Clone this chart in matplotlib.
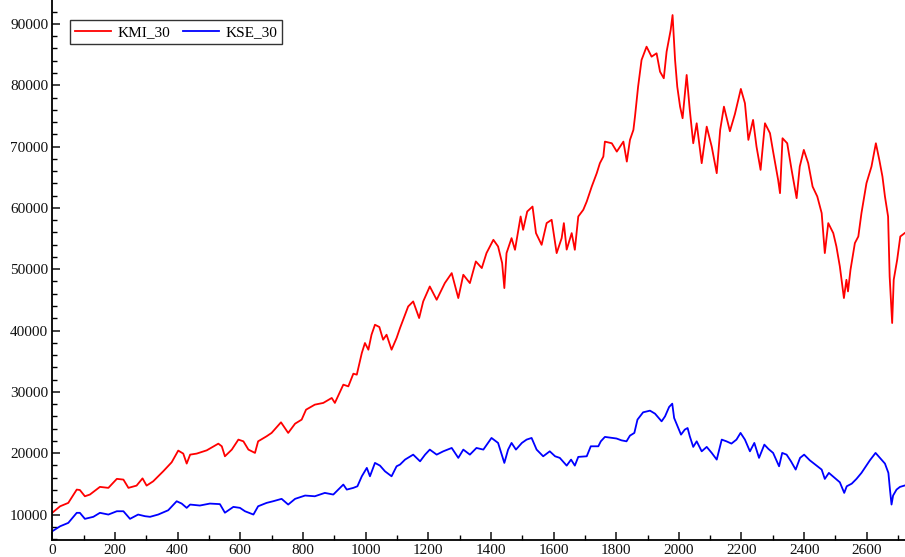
import numpy as np
import matplotlib
matplotlib.use('Agg')
import matplotlib.pyplot as plt
from matplotlib.ticker import MultipleLocator

# values (day index, index level)
kmi_idx = [0, 25, 51, 78, 88, 104, 120, 152, 179, 206, 227, 243, 269, 288, 301,
           322, 354, 381, 402, 418, 429, 440, 461, 493, 530, 541, 551, 573, 594,
           610, 626, 647, 657, 684, 700, 730, 753, 775, 796, 810, 838, 865, 892,
           902, 929, 945, 961, 972, 988, 998, 1009, 1019, 1030, 1044, 1056, 1067,
           1083, 1099, 1110, 1120, 1136, 1152, 1171, 1184, 1205, 1227, 1253, 1275,
           1296, 1312, 1333, 1352, 1371, 1386, 1408, 1423, 1436, 1443, 1450, 1466,
           1477, 1495, 1503, 1516, 1533, 1544, 1562, 1578, 1594, 1610, 1626, 1633,
           1642, 1658, 1668, 1679, 1695, 1706, 1722, 1738, 1748, 1759, 1764, 1786,
           1802, 1823, 1834, 1844, 1855, 1860, 1870, 1881, 1897, 1913, 1929, 1940,
           1952, 1961, 1974, 1980, 1988, 1995, 2004, 2012, 2025, 2035, 2046, 2057,
           2073, 2089, 2105, 2121, 2132, 2144, 2163, 2179, 2198, 2211, 2222, 2237,
           2248, 2261, 2275, 2291, 2301, 2317, 2323, 2331, 2346, 2360, 2376, 2386,
           2399, 2413, 2427, 2442, 2456, 2466, 2477, 2493, 2503, 2514, 2527, 2535,
           2540, 2548, 2562, 2573, 2583, 2599, 2615, 2629, 2640, 2650, 2658, 2668,
           2673, 2681, 2686, 2697, 2707, 2721]
kmi_val = [10300, 11350, 11900, 14070, 14000, 12980, 13260, 14510, 14350, 15820,
           15700, 14350, 14720, 15900, 14720, 15420, 17050, 18520, 20430, 19940,
           18310, 19770, 19940, 20470, 21560, 21130, 19500, 20590, 22220, 21940,
           20590, 20050, 21940, 22760, 23310, 25040, 23310, 24820, 25480, 27100,
           27920, 28200, 29010, 28200, 31180, 30900, 32970, 32810, 36340, 37970,
           36880, 39320, 40950, 40580, 38510, 39320, 36880, 38780, 40410, 41770,
           43930, 44750, 42040, 44750, 47190, 45020, 47740, 49370, 45300, 49100,
           47740, 51270, 50190, 52630, 54800, 53710, 51000, 46930, 52630, 55070,
           53170, 58600, 56430, 59410, 60220, 55890, 53980, 57520, 58060, 52630,
           55070, 57520, 53200, 55890, 53170, 58600, 59690, 61040, 63480, 65660,
           67290, 68370, 70810, 70540, 69180, 70810, 67550, 71090, 72720, 74880,
           79770, 84120, 86290, 84660, 85210, 82210, 81140, 85470, 89010, 91450,
           84120, 79770, 76510, 74620, 81680, 75970, 70540, 73800, 67290, 73250,
           69990, 65660, 72720, 76510, 72500, 75300, 79400, 77070, 71090, 74350,
           69990, 66200, 73800, 72180, 69180, 64570, 62400, 71360, 70540, 66200,
           61590, 66740, 69460, 67290, 63480, 61860, 59150, 52630, 57520, 55890,
           53710, 50450, 45300, 48280, 46380, 49910, 54260, 55340, 59150, 64030,
           66740, 70540, 67830, 65110, 61860, 58600, 48820, 41230, 48280, 51540,
           55340, 55890]

kse_idx = [0, 25, 51, 78, 88, 104, 131, 152, 179, 206, 227, 248, 274, 296, 312,
           338, 370, 397, 413, 429, 440, 471, 503, 535, 551, 578, 599, 615, 642,
           657, 684, 705, 732, 753, 775, 807, 838, 870, 897, 913, 929, 940, 961,
           974, 988, 1004, 1014, 1030, 1046, 1062, 1083, 1099, 1110, 1126, 1152,
           1174, 1190, 1205, 1227, 1248, 1275, 1296, 1312, 1333, 1354, 1376, 1402,
           1423, 1443, 1455, 1466, 1480, 1499, 1514, 1530, 1546, 1567, 1588, 1605,
           1620, 1642, 1656, 1668, 1679, 1706, 1719, 1743, 1751, 1764, 1801, 1817,
           1833, 1844, 1858, 1868, 1886, 1908, 1924, 1945, 1956, 1969, 1979, 1985,
           1996, 2007, 2019, 2028, 2035, 2046, 2057, 2073, 2089, 2105, 2121, 2137,
           2152, 2168, 2184, 2197, 2211, 2227, 2241, 2256, 2273, 2286, 2301, 2320,
           2330, 2344, 2358, 2373, 2387, 2400, 2418, 2440, 2456, 2466, 2479, 2498,
           2514, 2528, 2536, 2552, 2567, 2583, 2596, 2610, 2628, 2642, 2658, 2669,
           2674, 2679, 2684, 2695, 2706, 2720]
kse_val = [7280, 8090, 8640, 10280, 10280, 9300, 9630, 10280, 10000, 10540, 10540,
           9300, 10000, 9730, 9630, 10000, 10700, 12170, 11790, 11090, 11630,
           11470, 11790, 11700, 10300, 11250, 11090, 10540, 10000, 11350, 11900,
           12170, 12560, 11630, 12560, 13100, 12980, 13530, 13260, 14070, 14890,
           14070, 14350, 14610, 16240, 17610, 16240, 18420, 17980, 17050, 16240,
           17870, 18150, 18960, 19770, 18680, 19770, 20590, 19770, 20310, 20860,
           19240, 20590, 19770, 20860, 20590, 22490, 21680, 18420, 20590, 21680,
           20590, 21680, 22220, 22490, 20590, 19500, 20310, 19500, 19240, 17980,
           18960, 17980, 19400, 19500, 21130, 21130, 21940, 22660, 22400, 22100,
           21940, 22870, 23310, 25480, 26670, 26940, 26450, 25200, 26010, 27540,
           28080, 25750, 24380, 23030, 23850, 24110, 22760, 21030, 21940, 20310,
           21030, 20050, 18960, 22220, 21940, 21570, 22220, 23310, 22220, 20310,
           21680, 19240, 21400, 20700, 20050, 17870, 20050, 19770, 18680, 17330,
           19240, 19770, 18850, 17980, 17330, 15810, 16790, 15950, 15260, 13530,
           14610, 15040, 15810, 16790, 17770, 18850, 20050, 19240, 18310, 16790,
           14070, 11630, 13100, 14070, 14510, 14720]

plt.rcParams['font.family'] = ['Liberation Serif', 'DejaVu Serif']

fig = plt.figure(figsize=(9.05, 5.57), dpi=100)
ax = fig.add_axes([0.0578, 0.0314, 0.9422, 0.9686])

ax.plot(kmi_idx, kmi_val, color='#ff0000', lw=1.3, label='KMI_30')
ax.plot(kse_idx, kse_val, color='#0000ff', lw=1.3, label='KSE_30')

ax.set_xlim(0, 2722)
ax.set_ylim(5930, 93900)
ax.xaxis.set_major_locator(MultipleLocator(200))
ax.xaxis.set_minor_locator(MultipleLocator(100))
ax.yaxis.set_major_locator(MultipleLocator(10000))
ax.yaxis.set_minor_locator(MultipleLocator(2000))

for side in ['top', 'right']:
    ax.spines[side].set_visible(False)
for side in ['left', 'bottom']:
    ax.spines[side].set_linewidth(1.3)

ax.tick_params(which='major', direction='in', length=6, width=1.1,
               labelsize=11, colors='#111111', pad=3)
ax.tick_params(which='minor', direction='in', length=3.5, width=1.0)

leg = ax.legend(loc='upper left', bbox_to_anchor=(0.0208, 0.963), ncol=2,
                fontsize=11, frameon=True, fancybox=False, borderaxespad=0,
                handlelength=2.35, handletextpad=0.4, columnspacing=0.85,
                borderpad=0.35)
leg.get_frame().set_edgecolor('black')
leg.get_frame().set_linewidth(1.0)

plt.savefig('out.png', dpi=100)
